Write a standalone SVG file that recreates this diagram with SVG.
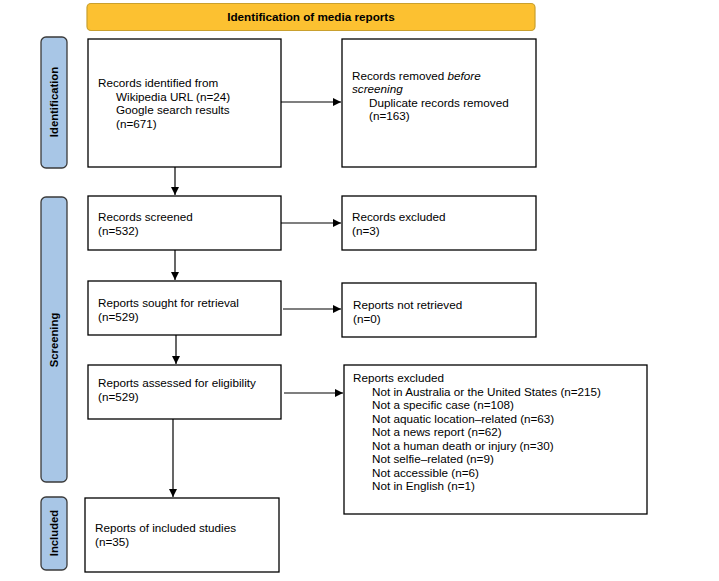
<svg xmlns="http://www.w3.org/2000/svg" width="719" height="581" viewBox="0 0 719 581">
<style>
.box{fill:#fff;stroke:#000;stroke-width:1.3}
.side{fill:#a8c6e6;stroke:#3a3a3a;stroke-width:1.3}
.t{font-family:"Liberation Sans",Arial,sans-serif;font-size:11.7px;fill:#000}
.b{font-family:"Liberation Sans",Arial,sans-serif;font-size:11.7px;font-weight:bold;fill:#000}
.s{font-family:"Liberation Sans",Arial,sans-serif;font-size:11.3px;font-weight:bold;fill:#000}
.c{fill:none;stroke:#000;stroke-width:1.2}
</style>
<defs>
<marker id="ah" viewBox="0 0 10 10" refX="10" refY="5" markerWidth="8" markerHeight="8" markerUnits="userSpaceOnUse" orient="auto">
<path d="M0,0 L10,5 L0,10 z" fill="#000"/>
</marker>
</defs>
<rect width="719" height="581" fill="#fff"/>
<g id="header">
<rect x="87" y="3.5" width="448" height="27" rx="4" fill="#fcc131" stroke="#c9a02e" stroke-width="1.2"/>
<text class="b" x="311" y="21" text-anchor="middle">Identification of media reports</text>
</g>
<g id="lbl-identification">
<rect class="side" x="41" y="37" width="26" height="131" rx="5"/>
<text class="s" transform="translate(58,102) rotate(-90)" text-anchor="middle">Identification</text>
</g>
<g id="lbl-screening">
<rect class="side" x="41" y="197" width="26" height="285" rx="5"/>
<text class="s" transform="translate(58,340) rotate(-90)" text-anchor="middle">Screening</text>
</g>
<g id="lbl-included">
<rect class="side" x="41" y="497" width="26" height="73" rx="5"/>
<text class="s" transform="translate(58,533) rotate(-90)" text-anchor="middle">Included</text>
</g>
<g id="n-identified">
<rect class="box" x="88" y="39" width="193" height="128"/>
<text class="t" x="98" y="87">Records identified from</text>
<text class="t" x="116" y="100.5">Wikipedia URL (n=24)</text>
<text class="t" x="116" y="114">Google search results</text>
<text class="t" x="116" y="127.5">(n=671)</text>
</g>
<g id="n-removed">
<rect class="box" x="342" y="39" width="194" height="128"/>
<text class="t" x="352" y="80">Records removed <tspan font-style="italic">before</tspan></text>
<text class="t" x="352" y="93" font-style="italic">screening</text>
<text class="t" x="369" y="106.5">Duplicate records removed</text>
<text class="t" x="369" y="120">(n=163)</text>
</g>
<g id="n-screened">
<rect class="box" x="88" y="196" width="193" height="54"/>
<text class="t" x="98" y="221">Records screened</text>
<text class="t" x="98" y="235">(n=532)</text>
</g>
<g id="n-excluded1">
<rect class="box" x="342" y="196" width="194" height="54"/>
<text class="t" x="352" y="221">Records excluded</text>
<text class="t" x="352" y="235">(n=3)</text>
</g>
<g id="n-sought">
<rect class="box" x="88" y="281" width="193" height="54"/>
<text class="t" x="98" y="307">Reports sought for retrieval</text>
<text class="t" x="98" y="321">(n=529)</text>
</g>
<g id="n-notretrieved">
<rect class="box" x="342" y="283" width="194" height="54"/>
<text class="t" x="353" y="309">Reports not retrieved</text>
<text class="t" x="353" y="323">(n=0)</text>
</g>
<g id="n-assessed">
<rect class="box" x="88" y="365" width="193" height="54"/>
<text class="t" x="98" y="387">Reports assessed for eligibility</text>
<text class="t" x="98" y="401">(n=529)</text>
</g>
<g id="n-excluded2">
<rect class="box" x="344" y="365" width="303" height="149"/>
<text class="t" x="353" y="382">Reports excluded</text>
<text class="t" x="372" y="395.5">Not in Australia or the United States (n=215)</text>
<text class="t" x="372" y="409">Not a specific case (n=108)</text>
<text class="t" x="372" y="422.5">Not aquatic location–related (n=63)</text>
<text class="t" x="372" y="436">Not a news report (n=62)</text>
<text class="t" x="372" y="449.5">Not a human death or injury (n=30)</text>
<text class="t" x="372" y="463">Not selfie–related (n=9)</text>
<text class="t" x="372" y="476.5">Not accessible (n=6)</text>
<text class="t" x="372" y="490">Not in English (n=1)</text>
</g>
<g id="n-included">
<rect class="box" x="85" y="498" width="194" height="74"/>
<text class="t" x="95" y="532">Reports of included studies</text>
<text class="t" x="95" y="546">(n=35)</text>
</g>
<g id="connectors">
<line class="c" x1="281" y1="102" x2="341" y2="102" marker-end="url(#ah)"/>
<line class="c" x1="175" y1="167" x2="175" y2="195" marker-end="url(#ah)"/>
<line class="c" x1="281" y1="223" x2="341" y2="223" marker-end="url(#ah)"/>
<line class="c" x1="175" y1="250" x2="175" y2="280" marker-end="url(#ah)"/>
<line class="c" x1="283" y1="309" x2="341" y2="309" marker-end="url(#ah)"/>
<line class="c" x1="176" y1="335" x2="176" y2="364" marker-end="url(#ah)"/>
<line class="c" x1="284" y1="393" x2="343" y2="393" marker-end="url(#ah)"/>
<line class="c" x1="173" y1="419" x2="173" y2="497" marker-end="url(#ah)"/>
</g>
</svg>
